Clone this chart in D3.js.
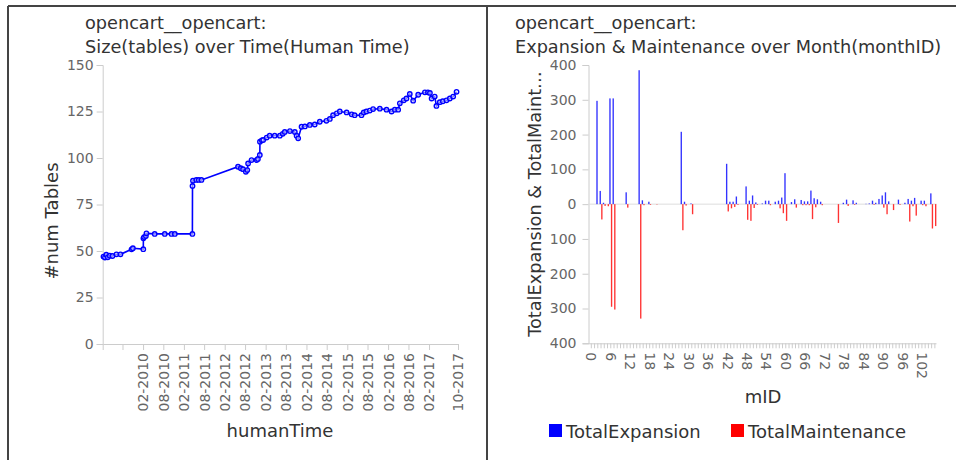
<!DOCTYPE html>
<html>
<head>
<meta charset="utf-8">
<script src="https://cdn.jsdelivr.net/npm/d3@7"></script>
<style>
  html, body { margin: 0; padding: 0; background: #fff; }
  svg { display: block; font-family: "DejaVu Sans", sans-serif; }
</style>
</head>
<body>
<svg id="chart" width="956" height="460"></svg>
<script>
// ---------------- DATA ----------------
const projectName = "opencart__opencart:";
const leftTitle = "Size(tables) over Time(Human Time)";
const rightTitle = "Expansion & Maintenance over Month(monthID)";

// Left chart: schema size (#tables) over time
const sizeDates = [
  "2009-02-12","2009-02-25","2009-03-09","2009-03-22","2009-04-09","2009-05-03","2009-06-08","2009-07-14",
  "2009-10-21","2009-11-02","2010-02-03","2010-02-04","2010-02-10","2010-02-26","2010-03-03","2010-05-16",
  "2010-08-14","2010-10-13","2010-11-12","2011-04-18","2011-04-19","2011-04-23","2011-05-23","2011-06-14",
  "2011-07-08","2012-05-30","2012-06-24","2012-07-14","2012-08-08","2012-08-21","2012-08-28","2012-09-28",
  "2012-11-12","2012-11-24","2012-12-11","2012-12-12","2012-12-29","2013-01-10","2013-02-10","2013-03-09",
  "2013-04-23","2013-06-08","2013-07-04","2013-07-22","2013-09-06","2013-10-20","2013-11-05","2013-11-19",
  "2013-12-19","2014-01-18","2014-03-03","2014-04-16","2014-05-31","2014-07-29","2014-08-29","2014-09-27",
  "2014-10-30","2014-11-26","2015-01-26","2015-03-12","2015-04-08","2015-06-08","2015-06-28","2015-07-22",
  "2015-08-21","2015-09-20","2015-11-19","2016-01-18","2016-03-03","2016-04-01","2016-05-01","2016-05-16",
  "2016-06-20","2016-07-14","2016-08-13","2016-09-12","2016-10-27","2016-12-26","2017-01-22","2017-02-09",
  "2017-02-24","2017-03-24","2017-04-08","2017-05-08","2017-06-04","2017-07-07","2017-08-06","2017-09-05",
  "2017-10-05"
];
const sizeTables = [
  47,46.5,48,46.6,47.5,47.3,48.2,48.2,
  50.9,51.5,51,56.8,57.5,58,59.5,59.2,
  59.2,59.2,59.2,59.2,85,87.8,88.2,88.2,
  88.2,95.3,94.5,94,92.6,93.5,97.1,98.9,
  98.9,99.5,101.6,108.8,109.5,109.7,111,112,
  112,112,113,114,114.5,114,112,110.6,
  116.8,117,117.8,118,119.5,120,121,123,
  124,125,124.5,123.5,123,123,124.5,125,
  125.5,126.3,126.5,126,125,126,126,129.4,
  131,132,134.4,130.8,134,135.3,135.3,135,
  132,133,128,130,130.5,131,132,133,
  135.6
];
const timeDomain = ["2009-02-05", "2017-10-18"];
const timeTickDates = ["2009-08-01","2010-02-01","2010-08-01","2011-02-01","2011-08-01","2012-02-01","2012-08-01",
  "2013-02-01","2013-08-01","2014-02-01","2014-08-01","2015-02-01","2015-08-01","2016-02-01","2016-08-01",
  "2017-02-01","2017-10-18"];
const timeTickLabels = ["","02-2010","08-2010","02-2011","08-2011","02-2012","08-2012",
  "02-2013","08-2013","02-2014","08-2014","02-2015","08-2015","02-2016","08-2016",
  "02-2017","10-2017"];
const sizeTicks = [0,25,50,75,100,125,150];

// Right chart: expansion & maintenance per month
const monthIDs = d3.range(0, 107);
const totalExpansion = [
  0,0,297,38,4,0,304,304,0,0,
  0,34,0,0,0,385,11,0,7,0,
  0,0,0,0,0,0,0,0,208,7,
  0,2,0,0,0,0,0,0,0,0,
  0,0,116,7,7,22,0,0,51,10,
  25,5,0,2,10,10,0,7,10,19,
  89,0,6,14,0,12,8,8,39,17,
  14,7,0,0,0,0,0,0,4,13,
  0,11,4,0,0,1,2,10,4,15,
  25,34,8,0,0,13,0,4,15,10,
  18,0,10,10,0,31,0
];
const totalMaintenance = [
  0,0,0,44,5,6,295,303,0,0,
  0,10,0,0,0,329,3,0,2,0,
  1,0,0,0,0,0,0,0,75,4,
  0,29,0,0,0,0,0,0,0,0,
  0,0,21,12,8,2,0,0,45,48,
  11,2,0,0,0,3,0,0,12,26,
  48,0,0,10,0,3,3,3,43,9,
  0,3,0,0,0,0,54,0,0,5,
  0,2,0,0,0,0,0,2,0,0,
  10,29,0,17,0,2,0,0,50,6,
  33,0,3,6,0,70,63
];
const emTicks = [-400,-300,-200,-100,0,100,200,300,400];
const monthLabelTicks = d3.range(0, 103, 6);
const seriesNames = ["TotalExpansion", "TotalMaintenance"];
const seriesColors = ["#0000ff", "#ff0000"];

// ---------------- DRAW ----------------
const svg = d3.select("#chart");
const parse = d3.timeParse("%Y-%m-%d");
const textCol = "#333";
const tickCol = "#666";
const axisCol = "#ccc";
const titleSize = 17.7, labelSize = 18, tickSize = 14;

// Frame
svg.append("line").attr("x1", 8).attr("x2", 956).attr("y1", 6).attr("y2", 6).attr("stroke", "#444").attr("stroke-width", 2);
svg.append("line").attr("x1", 8).attr("x2", 8).attr("y1", 6).attr("y2", 460).attr("stroke", "#444").attr("stroke-width", 2);
svg.append("line").attr("x1", 487).attr("x2", 487).attr("y1", 6).attr("y2", 460).attr("stroke", "#444").attr("stroke-width", 2);

function title(x, lines) {
  lines.forEach((t, i) => {
    svg.append("text").attr("x", x).attr("y", 29 + i * 23.5)
      .attr("font-size", titleSize).attr("fill", textCol).text(t);
  });
}
title(85, [projectName, leftTitle]);
title(515, [projectName, rightTitle]);

// ----- Left chart -----
const xL = d3.scaleTime().domain(timeDomain.map(parse)).range([102.7, 458]);
const yL = d3.scaleLinear().domain([0, 150]).range([344, 65]);

const gyL = svg.append("g").attr("transform", "translate(102.7,0)")
  .call(d3.axisLeft(yL).tickValues(sizeTicks).tickSize(6).tickPadding(3));
const gxL = svg.append("g").attr("transform", "translate(0,344)")
  .call(d3.axisBottom(xL).tickValues(timeTickDates.map(parse))
    .tickFormat((d, i) => timeTickLabels[i]).tickSize(6).tickPadding(3));
gxL.selectAll("text").attr("transform", "rotate(-90)")
  .attr("text-anchor", "end").attr("x", -9).attr("y", 0).attr("dy", "0.35em");

[gyL, gxL].forEach(g => {
  g.select(".domain").attr("stroke", axisCol);
  g.selectAll(".tick line").attr("stroke", axisCol);
  g.selectAll("text").attr("fill", tickCol).attr("font-size", tickSize).attr("font-family", "DejaVu Sans");
});

svg.append("text").attr("transform", "translate(58,221) rotate(-90)")
  .attr("text-anchor", "middle").attr("font-size", labelSize).attr("fill", textCol).text("#num Tables");
svg.append("text").attr("x", 280).attr("y", 436.5)
  .attr("text-anchor", "middle").attr("font-size", labelSize).attr("fill", textCol).text("humanTime");

const sizeData = sizeDates.map((d, i) => ({ t: parse(d), v: sizeTables[i] }));
svg.append("path").datum(sizeData)
  .attr("fill", "none").attr("stroke", "#0000ff").attr("stroke-width", 1.6)
  .attr("d", d3.line().x(d => xL(d.t)).y(d => yL(d.v)));
svg.append("g").selectAll("circle").data(sizeData).join("circle")
  .attr("cx", d => xL(d.t)).attr("cy", d => yL(d.v)).attr("r", 2.2)
  .attr("fill", "#fff").attr("fill-opacity", 0.5).attr("stroke", "#0000ff").attr("stroke-width", 1.4);

// ----- Right chart -----
const xR = d3.scaleBand().domain(monthIDs).range([589.7, 936.5]).padding(0);
const yR = d3.scaleLinear().domain([-400, 400]).range([343.3, 65]);
const step = xR.step();

const gyR = svg.append("g").attr("transform", "translate(588.5,0)")
  .call(d3.axisLeft(yR).tickValues(emTicks).tickFormat(d => Math.abs(d)).tickSize(6).tickPadding(6));
const gxR = svg.append("g").attr("transform", "translate(0,343.3)")
  .call(d3.axisBottom(xR).tickValues(monthIDs).tickFormat(d => monthLabelTicks.includes(d) ? d : "").tickSize(5).tickPadding(3));
gxR.select(".domain").attr("d", "M588.5,0.5H936.5");
gxR.selectAll("text").attr("transform", "rotate(90)")
  .attr("text-anchor", "start").attr("x", 9).attr("y", 0).attr("dy", "0.35em");

[gyR, gxR].forEach(g => {
  g.select(".domain").attr("stroke", axisCol);
  g.selectAll(".tick line").attr("stroke", axisCol);
  g.selectAll("text").attr("fill", tickCol).attr("font-size", tickSize).attr("font-family", "DejaVu Sans");
});

// zero line
svg.append("line").attr("x1", 588.5).attr("x2", 936.5).attr("y1", yR(0)).attr("y2", yR(0))
  .attr("stroke", "#ddd").attr("stroke-width", 1);

const barW = step * 0.42;
svg.append("g").selectAll("rect").data(monthIDs.filter((m, i) => totalExpansion[i] > 0)).join("rect")
  .attr("x", m => xR(m) + step / 2 - barW - 0.12)
  .attr("width", barW)
  .attr("y", m => yR(totalExpansion[m]))
  .attr("height", m => yR(0) - yR(totalExpansion[m]))
  .attr("fill", seriesColors[0]).attr("fill-opacity", 0.8);
svg.append("g").selectAll("rect").data(monthIDs.filter((m, i) => totalMaintenance[i] > 0)).join("rect")
  .attr("x", m => xR(m) + step / 2 + 0.12)
  .attr("width", barW)
  .attr("y", yR(0))
  .attr("height", m => yR(-totalMaintenance[m]) - yR(0))
  .attr("fill", seriesColors[1]).attr("fill-opacity", 0.8);

svg.append("text").attr("transform", "translate(541,204) rotate(-90)")
  .attr("text-anchor", "middle").attr("font-size", titleSize).attr("fill", textCol)
  .text("TotalExpansion & TotalMaint\u2026");
svg.append("text").attr("x", 763).attr("y", 403)
  .attr("text-anchor", "middle").attr("font-size", labelSize).attr("fill", textCol).text("mID");

// legend
const legX = [549, 731];
seriesNames.forEach((n, i) => {
  svg.append("rect").attr("x", legX[i]).attr("y", 424).attr("width", 13).attr("height", 13).attr("fill", seriesColors[i]);
  svg.append("text").attr("x", legX[i] + 17).attr("y", 437.5).attr("font-size", labelSize).attr("fill", textCol).text(n);
});
</script>
</body>
</html>
